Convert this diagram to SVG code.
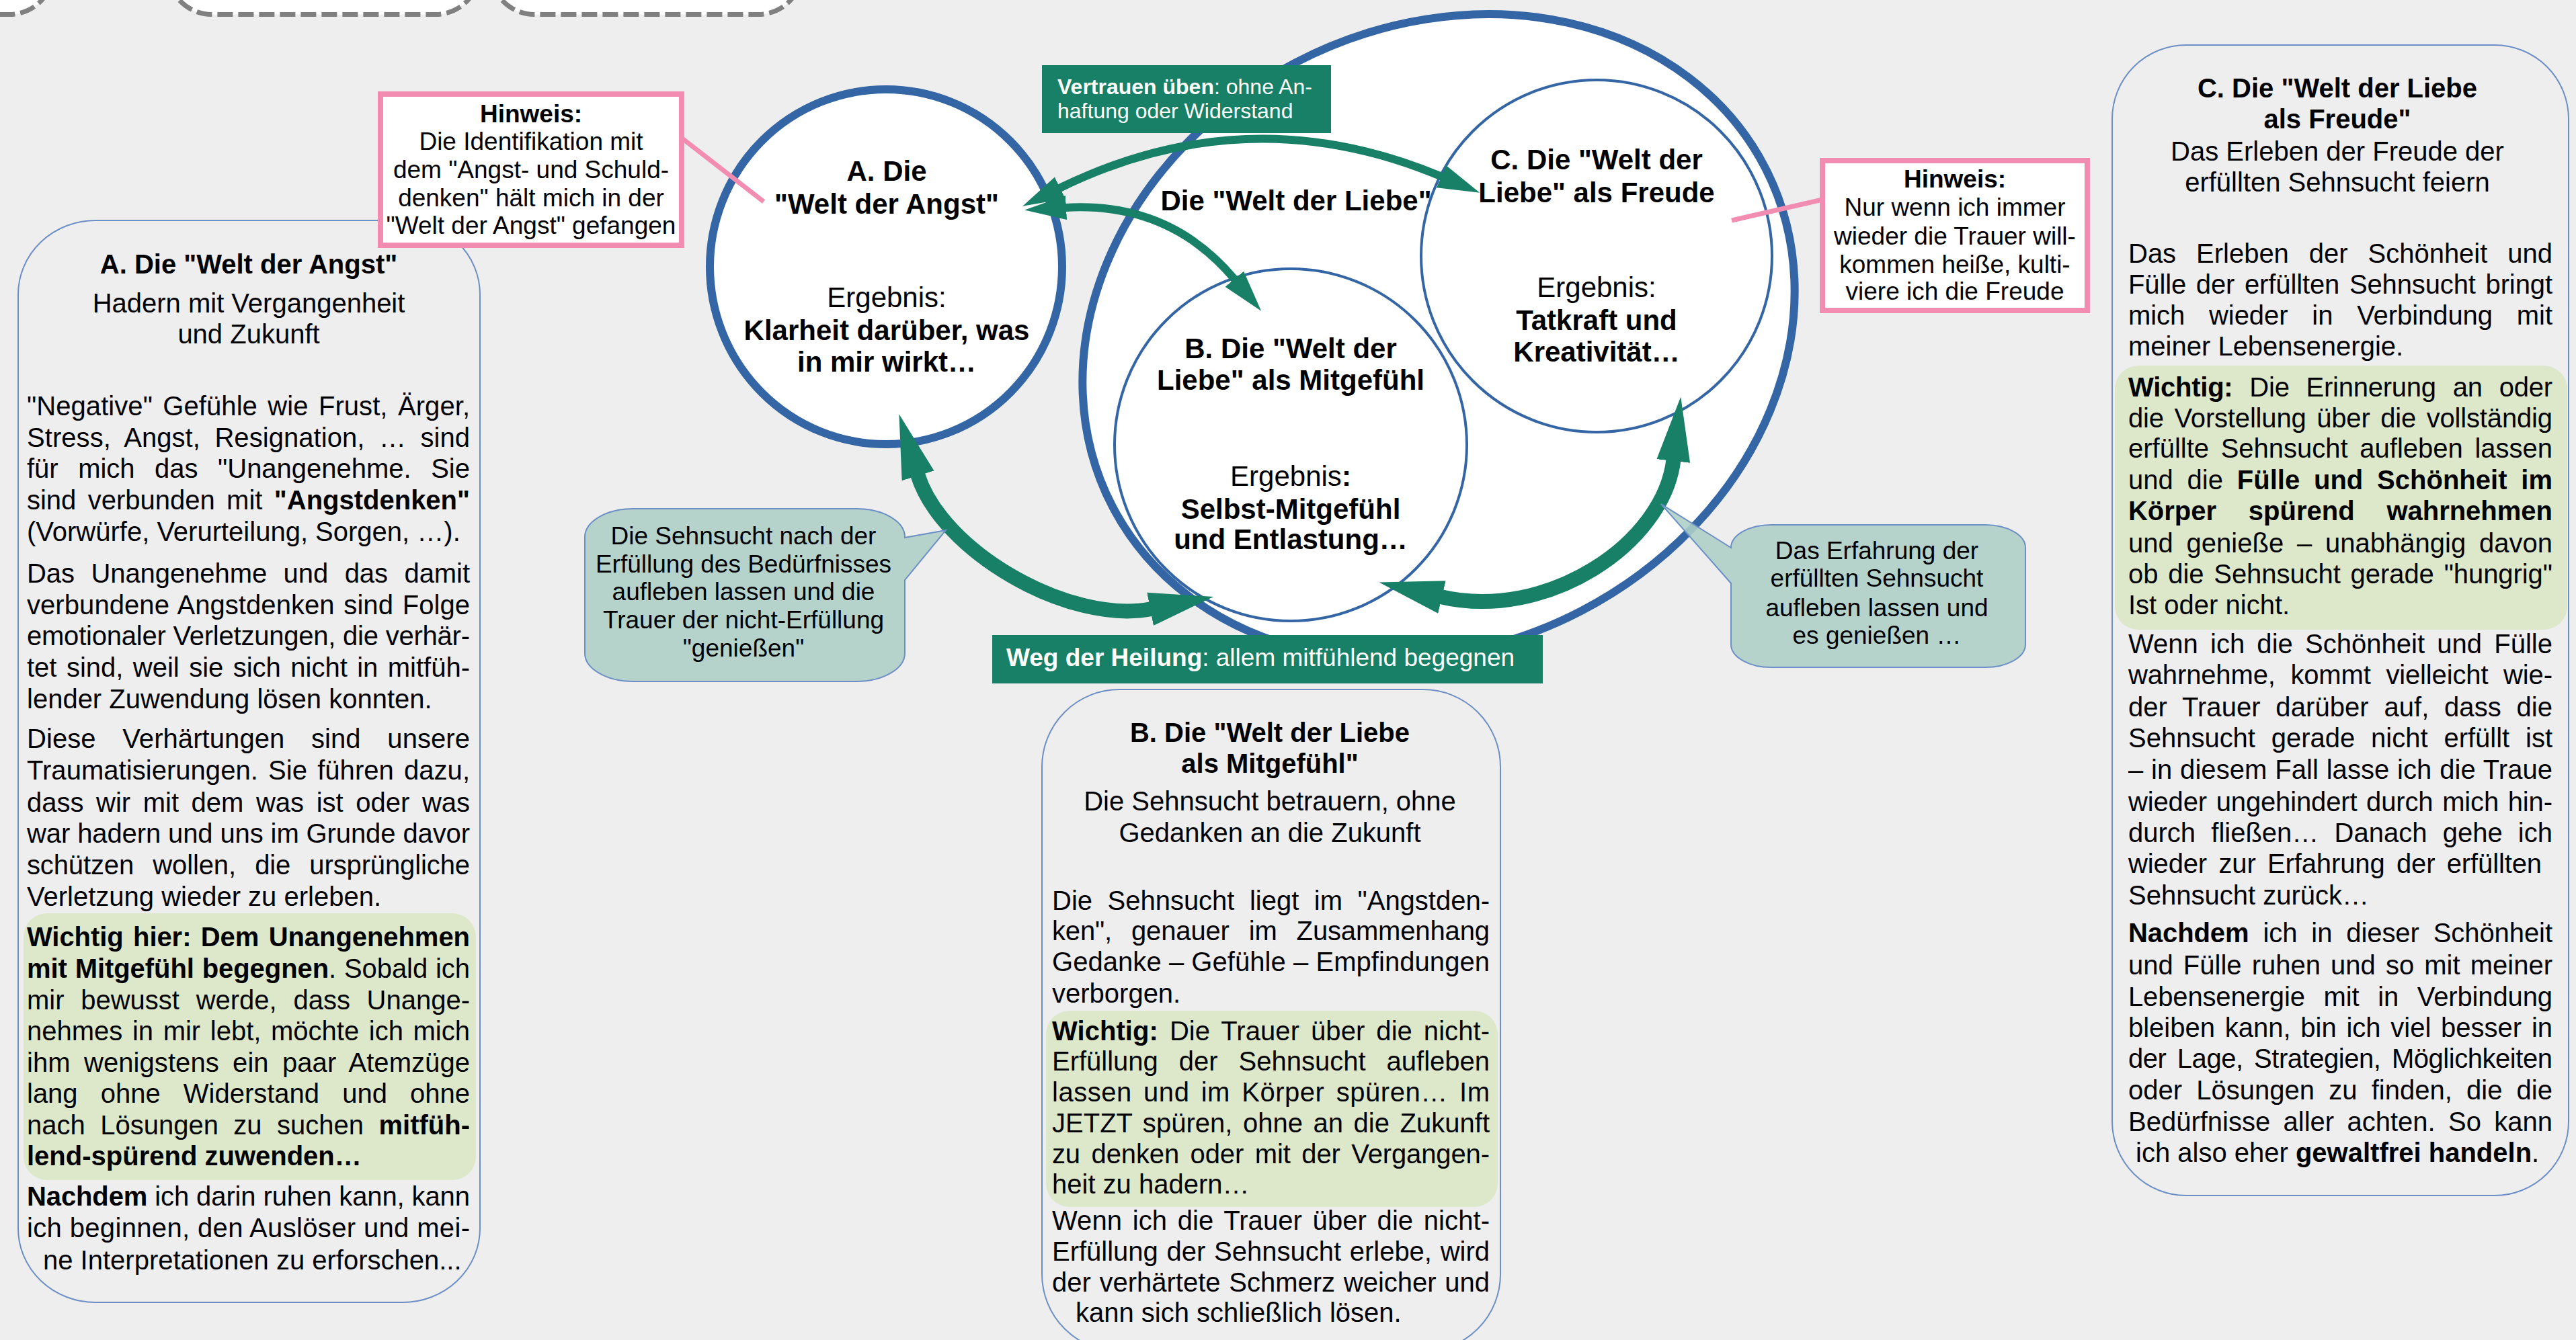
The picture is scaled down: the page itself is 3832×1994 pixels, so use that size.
<svg xmlns="http://www.w3.org/2000/svg" width="3832" height="1994" viewBox="0 0 3832 1994">
  <style>
    .t { font-family: "Liberation Sans", Arial, sans-serif; fill: #000; }
    .b { font-weight: bold; }
    .s32 { font-size: 32px; }
    .s37 { font-size: 37px; }
    .s40 { font-size: 40px; }
    .s42 { font-size: 42px; }
    .c { text-anchor: middle; }
    .w { fill: #fff; }
    .panel { fill: none; stroke: #6d8fc7; stroke-width: 2; }
    .hl { fill: #dde8cb; }
    .dash { fill: #fff; stroke: #808080; stroke-width: 7; stroke-dasharray: 23 8; }
    .ring { fill: #fff; stroke: #3465a4; }
    .note { fill: #fff; stroke: #f28cb1; stroke-width: 8; }
    .pin { stroke: #f28cb1; stroke-width: 7; fill: none; }
    .bubble { fill: #aecfc6; fill-opacity: 0.88; stroke: #6d8fc7; stroke-width: 2; }
    .tag { fill: #188066; }
  </style>
  <defs>
    <marker id="headThin" markerUnits="userSpaceOnUse" viewBox="0 -20 64 40" refX="1" refY="0" markerWidth="64" markerHeight="40" orient="auto-start-reverse">
      <path d="M0,-18 L62,0 L0,18 Z" fill="#188066"/>
    </marker>
    <marker id="headThick" markerUnits="userSpaceOnUse" viewBox="0 -27 98 54" refX="2" refY="0" markerWidth="98" markerHeight="54" orient="auto-start-reverse">
      <path d="M0,-25 L96,0 L0,25 Z" fill="#188066"/>
    </marker>
  </defs>

  <rect width="3832" height="1994" fill="#eeeeee"/>

  <!-- dashed placeholders along the top edge -->
  <g id="placeholders">
    <rect class="dash" x="-384" y="-200" width="463" height="221.5" rx="65" ry="65"/>
    <rect class="dash" x="250" y="-200" width="463" height="221.5" rx="65" ry="65"/>
    <rect class="dash" x="730" y="-200" width="463" height="221.5" rx="65" ry="65"/>
  </g>

  <!-- Panel A: justified lines use word spacing plus a fixed line length -->
  <g id="panel-a">
    <rect class="panel" x="27" y="328" width="687" height="1610" rx="115" ry="110"/>
    <rect class="hl" x="35" y="1359" width="673" height="397" rx="35" ry="35"/>
    <g class="t s40">
      <text class="b c" x="370" y="407">A. Die "Welt der Angst"</text>
      <text class="c" x="370" y="465">Hadern mit Vergangenheit</text>
      <text class="c" x="370" y="511">und Zukunft</text>

      <text x="40" y="618" textLength="659" lengthAdjust="spacing" style="word-spacing:4.2px">"Negative" Gefühle wie Frust, Ärger,</text>
      <text x="40" y="665" textLength="659" lengthAdjust="spacing" style="word-spacing:10.3px">Stress, Angst, Resignation, … sind</text>
      <text x="40" y="711" textLength="659" lengthAdjust="spacing" style="word-spacing:18.4px">für mich das "Unangenehme. Sie</text>
      <text x="40" y="758" textLength="659" lengthAdjust="spacing" style="word-spacing:6.3px">sind verbunden mit <tspan class="b">"Angstdenken"</tspan></text>
      <text x="40" y="805">(Vorwürfe, Verurteilung, Sorgen, …).</text>

      <text x="40" y="867" textLength="659" lengthAdjust="spacing" style="word-spacing:13.5px">Das Unangenehme und das damit</text>
      <text x="40" y="914" textLength="659" lengthAdjust="spacing" style="word-spacing:2.5px">verbundene Angstdenken sind Folge</text>
      <text x="40" y="960" textLength="659" lengthAdjust="spacing">emotionaler Verletzungen, die verhär-</text>
      <text x="40" y="1007" textLength="659" lengthAdjust="spacing" style="word-spacing:3.3px">tet sind, weil sie sich nicht in mitfüh-</text>
      <text x="40" y="1054">lender Zuwendung lösen konnten.</text>

      <text x="40" y="1113" textLength="659" lengthAdjust="spacing" style="word-spacing:28.5px">Diese Verhärtungen sind unsere</text>
      <text x="40" y="1160" textLength="659" lengthAdjust="spacing" style="word-spacing:4px">Traumatisierungen. Sie führen dazu,</text>
      <text x="40" y="1208" textLength="659" lengthAdjust="spacing" style="word-spacing:7.5px">dass wir mit dem was ist oder was</text>
      <text x="40" y="1254" textLength="659" lengthAdjust="spacing">war hadern und uns im Grunde davor</text>
      <text x="40" y="1301" textLength="659" lengthAdjust="spacing" style="word-spacing:17.2px">schützen wollen, die ursprüngliche</text>
      <text x="40" y="1348">Verletzung wieder zu erleben.</text>

      <text class="b" x="40" y="1408" textLength="659" lengthAdjust="spacing" style="word-spacing:3.3px">Wichtig hier: Dem Unangenehmen</text>
      <text x="40" y="1455" textLength="659" lengthAdjust="spacing" style="word-spacing:0.9px"><tspan class="b">mit Mitgefühl begegnen</tspan>. Sobald ich</text>
      <text x="40" y="1502" textLength="659" lengthAdjust="spacing" style="word-spacing:13.6px">mir bewusst werde, dass Unange-</text>
      <text x="40" y="1548" textLength="659" lengthAdjust="spacing" style="word-spacing:3.5px">nehmes in mir lebt, möchte ich mich</text>
      <text x="40" y="1595" textLength="659" lengthAdjust="spacing" style="word-spacing:9.1px">ihm wenigstens ein paar Atemzüge</text>
      <text x="40" y="1641" textLength="659" lengthAdjust="spacing" style="word-spacing:23px">lang ohne Widerstand und ohne</text>
      <text x="40" y="1688" textLength="659" lengthAdjust="spacing" style="word-spacing:11.3px">nach Lösungen zu suchen <tspan class="b">mitfüh-</tspan></text>
      <text class="b" x="40" y="1734">lend-spürend zuwenden…</text>

      <text x="40" y="1794" textLength="659" lengthAdjust="spacing"><tspan class="b">Nachdem</tspan> ich darin ruhen kann, kann</text>
      <text x="40" y="1841" textLength="659" lengthAdjust="spacing">ich beginnen, den Auslöser und mei-</text>
      <text x="64" y="1889">ne Interpretationen zu erforschen...</text>
    </g>
  </g>

  <!-- Panel B -->
  <g id="panel-b">
    <rect class="panel" x="1550" y="1026" width="682" height="985" rx="115" ry="115"/>
    <rect class="hl" x="1556" y="1504" width="672" height="292" rx="35" ry="35"/>
    <g class="t s40">
      <text class="b c" x="1889" y="1104">B. Die "Welt der Liebe</text>
      <text class="b c" x="1889" y="1150">als Mitgefühl"</text>
      <text class="c" x="1889" y="1206">Die Sehnsucht betrauern, ohne</text>
      <text class="c" x="1889" y="1253">Gedanken an die Zukunft</text>

      <text x="1565" y="1354" textLength="651" lengthAdjust="spacing" style="word-spacing:11.4px">Die Sehnsucht liegt im "Angstden-</text>
      <text x="1565" y="1399" textLength="651" lengthAdjust="spacing" style="word-spacing:18px">ken", genauer im Zusammenhang</text>
      <text x="1565" y="1445" textLength="651" lengthAdjust="spacing">Gedanke – Gefühle – Empfindungen</text>
      <text x="1565" y="1492">verborgen.</text>

      <text x="1565" y="1548" textLength="651" lengthAdjust="spacing" style="word-spacing:5.8px"><tspan class="b">Wichtig:</tspan> Die Trauer über die nicht-</text>
      <text x="1565" y="1593" textLength="651" lengthAdjust="spacing" style="word-spacing:19.9px">Erfüllung der Sehnsucht aufleben</text>
      <text x="1565" y="1639" textLength="651" lengthAdjust="spacing" style="word-spacing:5.6px">lassen und im Körper spüren… Im</text>
      <text x="1565" y="1685" textLength="651" lengthAdjust="spacing" style="word-spacing:4.4px">JETZT spüren, ohne an die Zukunft</text>
      <text x="1565" y="1731" textLength="651" lengthAdjust="spacing" style="word-spacing:5.6px">zu denken oder mit der Vergangen-</text>
      <text x="1565" y="1776">heit zu hadern…</text>

      <text x="1565" y="1830" textLength="651" lengthAdjust="spacing" style="word-spacing:4.4px">Wenn ich die Trauer über die nicht-</text>
      <text x="1565" y="1876" textLength="651" lengthAdjust="spacing" style="word-spacing:1.6px">Erfüllung der Sehnsucht erlebe, wird</text>
      <text x="1565" y="1922" textLength="651" lengthAdjust="spacing" style="word-spacing:1.6px">der verhärtete Schmerz weicher und</text>
      <text x="1600" y="1967">kann sich schließlich lösen.</text>
    </g>
  </g>

  <!-- Panel C -->
  <g id="panel-c">
    <rect class="panel" x="3142" y="67" width="679" height="1712" rx="110" ry="110"/>
    <rect class="hl" x="3146" y="544" width="673" height="393" rx="35" ry="35"/>
    <g class="t s40">
      <text class="b c" x="3477" y="145">C. Die "Welt der Liebe</text>
      <text class="b c" x="3477" y="191">als Freude"</text>
      <text class="c" x="3477" y="239">Das Erleben der Freude der</text>
      <text class="c" x="3477" y="285">erfüllten Sehnsucht feiern</text>

      <text x="3166" y="391" textLength="631" lengthAdjust="spacing" style="word-spacing:18.8px">Das Erleben der Schönheit und</text>
      <text x="3166" y="437" textLength="631" lengthAdjust="spacing" style="word-spacing:3.7px">Fülle der erfüllten Sehnsucht bringt</text>
      <text x="3166" y="483" textLength="631" lengthAdjust="spacing" style="word-spacing:24.8px">mich wieder in Verbindung mit</text>
      <text x="3166" y="529">meiner Lebensenergie.</text>

      <text x="3166" y="590" textLength="631" lengthAdjust="spacing" style="word-spacing:14.1px"><tspan class="b">Wichtig:</tspan> Die Erinnerung an oder</text>
      <text x="3166" y="636" textLength="631" lengthAdjust="spacing" style="word-spacing:4.7px">die Vorstellung über die vollständig</text>
      <text x="3166" y="681" textLength="631" lengthAdjust="spacing" style="word-spacing:6.5px">erfüllte Sehnsucht aufleben lassen</text>
      <text x="3166" y="728" textLength="631" lengthAdjust="spacing" style="word-spacing:9.7px">und die <tspan class="b">Fülle und Schönheit im</tspan></text>
      <text class="b" x="3166" y="774" textLength="631" lengthAdjust="spacing" style="word-spacing:36.7px">Körper spürend wahrnehmen</text>
      <text x="3166" y="822" textLength="631" lengthAdjust="spacing" style="word-spacing:8.7px">und genieße – unabhängig davon</text>
      <text x="3166" y="868" textLength="631" lengthAdjust="spacing" style="word-spacing:3.8px">ob die Sehnsucht gerade "hungrig"</text>
      <text x="3166" y="914">Ist oder nicht.</text>

      <text x="3166" y="972" textLength="631" lengthAdjust="spacing" style="word-spacing:7px">Wenn ich die Schönheit und Fülle</text>
      <text x="3166" y="1018" textLength="631" lengthAdjust="spacing" style="word-spacing:11.7px">wahrnehme, kommt vielleicht wie-</text>
      <text x="3166" y="1066" textLength="631" lengthAdjust="spacing" style="word-spacing:11.5px">der Trauer darüber auf, dass die</text>
      <text x="3166" y="1112" textLength="631" lengthAdjust="spacing" style="word-spacing:12.7px">Sehnsucht gerade nicht erfüllt ist</text>
      <text x="3166" y="1159" textLength="631" lengthAdjust="spacing" style="word-spacing:0.6px">– in diesem Fall lasse ich die Traue</text>
      <text x="3166" y="1207" textLength="631" lengthAdjust="spacing" style="word-spacing:2.7px">wieder ungehindert durch mich hin-</text>
      <text x="3166" y="1253" textLength="631" lengthAdjust="spacing" style="word-spacing:12.1px">durch fließen… Danach gehe ich</text>
      <text x="3166" y="1299" textLength="615" lengthAdjust="spacing" style="word-spacing:6.4px">wieder zur Erfahrung der erfüllten</text>
      <text x="3166" y="1346">Sehnsucht zurück…</text>

      <text x="3166" y="1402" textLength="631" lengthAdjust="spacing" style="word-spacing:9.9px"><tspan class="b">Nachdem</tspan> ich in dieser Schönheit</text>
      <text x="3166" y="1450" textLength="631" lengthAdjust="spacing" style="word-spacing:4px">und Fülle ruhen und so mit meiner</text>
      <text x="3166" y="1497" textLength="631" lengthAdjust="spacing" style="word-spacing:16.8px">Lebensenergie mit in Verbindung</text>
      <text x="3166" y="1543" textLength="631" lengthAdjust="spacing" style="word-spacing:3.7px">bleiben kann, bin ich viel besser in</text>
      <text x="3166" y="1589" textLength="631" lengthAdjust="spacing" style="word-spacing:5.7px">der Lage, Strategien, Möglichkeiten</text>
      <text x="3166" y="1636" textLength="631" lengthAdjust="spacing" style="word-spacing:10.1px">oder Lösungen zu finden, die die</text>
      <text x="3166" y="1683" textLength="631" lengthAdjust="spacing" style="word-spacing:8.2px">Bedürfnisse aller achten. So kann</text>
      <text x="3177" y="1729">ich also eher <tspan class="b">gewaltfrei handeln</tspan>.</text>
    </g>
  </g>

  <!-- Outer world: love -->
  <g id="world-love">
    <ellipse class="ring" cx="2140" cy="501" rx="547" ry="460" stroke-width="12" transform="rotate(-27.5 2140 501)"/>
    <text class="t b s42 c" x="1928" y="313">Die "Welt der Liebe"</text>
  </g>

  <!-- Circle A -->
  <g id="world-fear">
    <ellipse class="ring" cx="1318" cy="397" rx="262" ry="264" stroke-width="12"/>
    <g class="t s42 c">
      <text class="b" x="1319" y="269">A. Die</text>
      <text class="b" x="1319" y="318">"Welt der Angst"</text>
      <text x="1319" y="457">Ergebnis:</text>
      <text class="b" x="1319" y="506">Klarheit darüber, was</text>
      <text class="b" x="1319" y="553">in mir wirkt…</text>
    </g>
  </g>

  <!-- Circle B -->
  <g id="love-compassion">
    <ellipse class="ring" cx="1920" cy="662" rx="262" ry="262" stroke-width="4"/>
    <g class="t s42 c">
      <text class="b" x="1920" y="533">B. Die "Welt der</text>
      <text class="b" x="1920" y="580">Liebe" als Mitgefühl</text>
      <text x="1920" y="723">Ergebnis<tspan class="b">:</tspan></text>
      <text class="b" x="1920" y="772">Selbst-Mitgefühl</text>
      <text class="b" x="1920" y="817">und Entlastung…</text>
    </g>
  </g>

  <!-- Circle C -->
  <g id="love-joy">
    <ellipse class="ring" cx="2375" cy="381" rx="261" ry="262" stroke-width="4"/>
    <g class="t s42 c">
      <text class="b" x="2375" y="252">C. Die "Welt der</text>
      <text class="b" x="2375" y="301">Liebe" als Freude</text>
      <text x="2375" y="442">Ergebnis:</text>
      <text class="b" x="2375" y="491">Tatkraft und</text>
      <text class="b" x="2375" y="538">Kreativität…</text>
    </g>
  </g>

  <!-- Arrows between the worlds -->
  <g id="connectors" fill="none" stroke="#188066">
    <path d="M1576,280 Q1858,142 2145,263" stroke-width="12" marker-start="url(#headThin)" marker-end="url(#headThin)"/>
    <path d="M1585,309 Q1740,300 1837,416" stroke-width="12" marker-start="url(#headThin)" marker-end="url(#headThin)"/>
    <path d="M1365,706 C1400,820 1590,930 1713,906" stroke-width="22" marker-start="url(#headThick)" marker-end="url(#headThick)"/>
    <path d="M2143,888 C2300,925 2475,810 2489.5,684" stroke-width="22" marker-start="url(#headThick)" marker-end="url(#headThick)"/>
  </g>

  <!-- Path labels -->
  <g id="label-trust">
    <rect class="tag" x="1550" y="97" width="430" height="101"/>
    <g class="t s32 w">
      <text class="w" x="1573" y="140"><tspan class="b">Vertrauen üben</tspan>: ohne An-</text>
      <text class="w" x="1573" y="176">haftung oder Widerstand</text>
    </g>
  </g>
  <g id="label-healing">
    <rect class="tag" x="1476" y="945" width="819" height="72"/>
    <text class="t s37 w" x="1497" y="991"><tspan class="b">Weg der Heilung</tspan>: allem mitfühlend begegnen</text>
  </g>

  <!-- Speech bubbles -->
  <g id="bubble-longing">
    <path class="bubble" d="M942,757 H1274 A72,42 0 0 1 1346,799 L1346,800 L1407,789 L1346,863 V972 A72,42 0 0 1 1274,1014 H942 A72,42 0 0 1 870,972 V799 A72,42 0 0 1 942,757 Z"/>
    <g class="t s37 c">
      <text x="1106" y="810">Die Sehnsucht nach der</text>
      <text x="1106" y="852">Erfüllung des Bedürfnisses</text>
      <text x="1106" y="893">aufleben lassen und die</text>
      <text x="1106" y="935">Trauer der nicht-Erfüllung</text>
      <text x="1106" y="977">"genießen"</text>
    </g>
  </g>
  <g id="bubble-fulfilment">
    <path class="bubble" d="M2635,781 H2953 A60,34 0 0 1 3013,815 V959 A60,34 0 0 1 2953,993 H2635 A60,34 0 0 1 2575,959 V868 L2471,750 L2575,815 A60,34 0 0 1 2635,781 Z"/>
    <g class="t s37 c">
      <text x="2792" y="832">Das Erfahrung der</text>
      <text x="2792" y="873">erfüllten Sehnsucht</text>
      <text x="2792" y="917">aufleben lassen und</text>
      <text x="2792" y="958">es genießen …</text>
    </g>
  </g>

  <!-- Notes -->
  <g id="note-fear">
    <line class="pin" x1="1011" y1="203" x2="1136" y2="300"/>
    <rect class="note" x="566" y="140" width="448" height="225"/>
    <g class="t s37 c">
      <text class="b" x="790" y="182">Hinweis:</text>
      <text x="790" y="223">Die Identifikation mit</text>
      <text x="790" y="265">dem "Angst- und Schuld-</text>
      <text x="790" y="307">denken" hält mich in der</text>
      <text x="790" y="348">"Welt der Angst" gefangen</text>
    </g>
  </g>
  <g id="note-joy">
    <line class="pin" x1="2711" y1="297" x2="2576" y2="328"/>
    <rect class="note" x="2711" y="239" width="394" height="223"/>
    <g class="t s37 c">
      <text class="b" x="2908" y="279">Hinweis:</text>
      <text x="2908" y="321">Nur wenn ich immer</text>
      <text x="2908" y="364">wieder die Trauer will-</text>
      <text x="2908" y="406">kommen heiße, kulti-</text>
      <text x="2908" y="446">viere ich die Freude</text>
    </g>
  </g>
</svg>
